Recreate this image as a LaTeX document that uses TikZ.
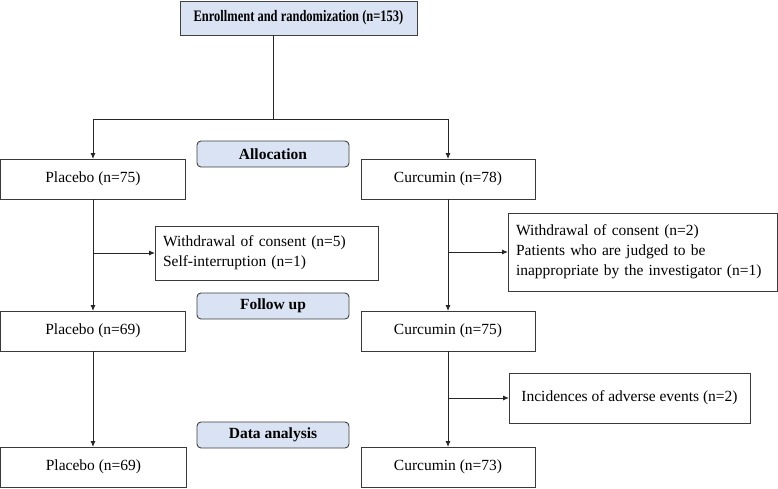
\documentclass[tikz,border=0pt]{standalone}
\usepackage{fontspec}
\setmainfont{Liberation Serif}
\usetikzlibrary{arrows.meta,calc}
\definecolor{hdrfill}{HTML}{DAE3F3}
\definecolor{hdrline}{HTML}{404040}
\definecolor{boxline}{HTML}{3A3A3A}
\begin{document}
\begin{tikzpicture}[x=1pt,y=-1pt,
  every node/.style={inner sep=0pt,outer sep=0pt},
  plainbox/.style={draw=boxline,line width=0.9pt,fill=white,font=\fontsize{15.5}{19}\selectfont},
  hdrbox/.style={draw=hdrline,line width=0.9pt,fill=hdrfill,rounded corners=4pt,minimum width=152pt,minimum height=26pt,font=\fontsize{15.5}{19}\selectfont\bfseries},
  conn/.style={draw=black!85,line width=0.9pt},
  arr/.style={conn,-{Latex[length=6pt,width=5pt]}}]
\useasboundingbox (0,0) rectangle (778,488);
\fill[white] (0,0) rectangle (778,488);

\node[plainbox,fill=hdrfill,draw=hdrline,minimum width=237pt,minimum height=34pt,font=\fontsize{16}{19}\selectfont\bfseries] (enroll) at (298.5,18) {\scalebox{0.78}[1]{Enrollment and randomization (n=153)}};

\node[hdrbox] (alloc) at (273,154) {Allocation};
\node[hdrbox] (follow) at (273,306) {Follow up};
\node[hdrbox] (data) at (273,435) {Data analysis};

\node[plainbox,minimum width=185pt,minimum height=40pt] (p1) at (93,179) {Placebo (n=75)};
\node[plainbox,minimum width=174pt,minimum height=40pt] (c1) at (448,179) {Curcumin (n=78)};
\node[plainbox,minimum width=223pt,minimum height=54pt,align=left,text width=207pt,font=\fontsize{15.5}{20}\selectfont] (w1) at (266.5,253) {Withdrawal of consent (n=5)\\Self-interruption (n=1)};
\node[plainbox,minimum width=269pt,minimum height=78pt,align=left,text width=253pt,font=\fontsize{15.5}{20}\selectfont] (w2) at (642.5,252) {Withdrawal of consent (n=2)\\Patients who are judged to be\\inappropriate by the investigator (n=1)};
\node[plainbox,minimum width=185pt,minimum height=40pt] (p2) at (93,331) {Placebo (n=69)};
\node[plainbox,minimum width=174pt,minimum height=40pt] (c2) at (448,331) {Curcumin (n=75)};
\node[plainbox,minimum width=241pt,minimum height=50pt] (adv) at (629.5,398) {Incidences of adverse events (n=2)};
\node[plainbox,minimum width=186pt,minimum height=40pt] (p3) at (93.5,467) {Placebo (n=69)};
\node[plainbox,minimum width=174pt,minimum height=40pt] (c3) at (448,467) {Curcumin (n=73)};

\coordinate (split) at (273,119);
\draw[conn] (enroll.south -| split) -- (split);
\draw[arr] (split) -| (p1.north);
\draw[arr] (split) -| (c1.north);

\draw[arr] (p1.south) -- (p2.north);
\draw[arr] (p1.south |- w1.west) -- (w1.west);
\draw[arr] (c1.south) -- (c2.north);
\draw[arr] (c1.south |- w2.west) -- (w2.west);

\draw[arr] (p2.south) -- (p2.south |- p3.north);
\draw[arr] (c2.south) -- (c3.north);
\draw[arr] (c2.south |- adv.west) -- (adv.west);
\end{tikzpicture}
\end{document}
